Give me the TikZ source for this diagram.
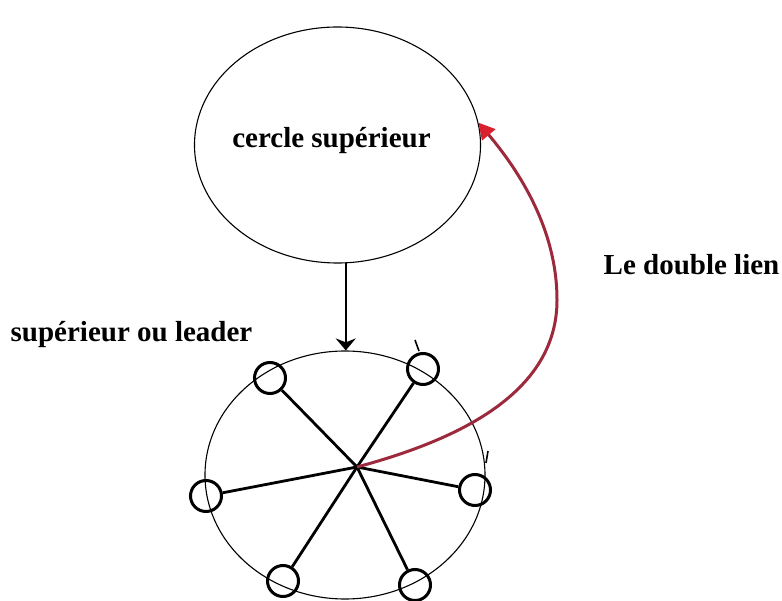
\documentclass[tikz,border=0pt]{standalone}
\usepackage{fontspec}
\setmainfont{Liberation Serif}
\usetikzlibrary{shapes.geometric,arrows.meta}
\definecolor{linkred}{HTML}{9C2A3C}
\definecolor{tipred}{HTML}{D8202E}
\begin{document}
\begin{tikzpicture}[x=1pt,y=-1pt,
  bigring/.style={draw=black,ellipse,line width=1.1pt,inner sep=0pt},
  member/.style={draw=black,circle,line width=3pt,minimum size=31pt,inner sep=0pt},
  spoke/.style={line width=2.8pt,black},
  label/.style={font=\bfseries\fontsize{29}{34}\selectfont,anchor=base,inner sep=0pt},
  link/.style={linkred,line width=3pt,-{Triangle[length=16pt,width=17pt,color=tipred]}},
  down/.style={line width=2.2pt,-{Stealth[length=12pt,width=20pt]}}]
\useasboundingbox (0,0) rectangle (782,601);
\fill[white] (0,0) rectangle (782,601);

% upper circle
\node[bigring,minimum width=286pt,minimum height=236pt] (top) at (337.5,145) {};
\node[label] (toptxt) at (331.5,148) {cercle supérieur};

% lower circle
\node[bigring,minimum width=280pt,minimum height=248pt] (big) at (345,475) {};

% members
\coordinate (hub) at (357,467);
\node[member] (tl) at (270,378) {};
\node[member] (tr) at (423,369) {};
\node[member] (l)  at (206,496) {};
\node[member] (r)  at (475,490) {};
\node[member] (bl) at (283,581) {};
\node[member] (br) at (415,585) {};
\foreach \m in {tl,tr,l,r,bl,br} \draw[spoke] (hub) -- (\m);

% small strokes on the ring
\draw[line width=1.6pt] (415,340) -- (419,351);
\draw[line width=1.6pt] (488,451) -- (486,463);

% arrow from upper circle to leader
\draw[down] (top.-86) -- (top.-86 |- big.north);

% labels
\node[label] (leader) at (131.5,342) {supérieur ou leader};
\node[label] (double) at (691.5,275) {Le double lien};

% double link
\draw[link] (hub) .. controls (465,438) and (557,390) .. (557,300)
  .. controls (557,230) and (520,172) .. (top.9);
\end{tikzpicture}
\end{document}
